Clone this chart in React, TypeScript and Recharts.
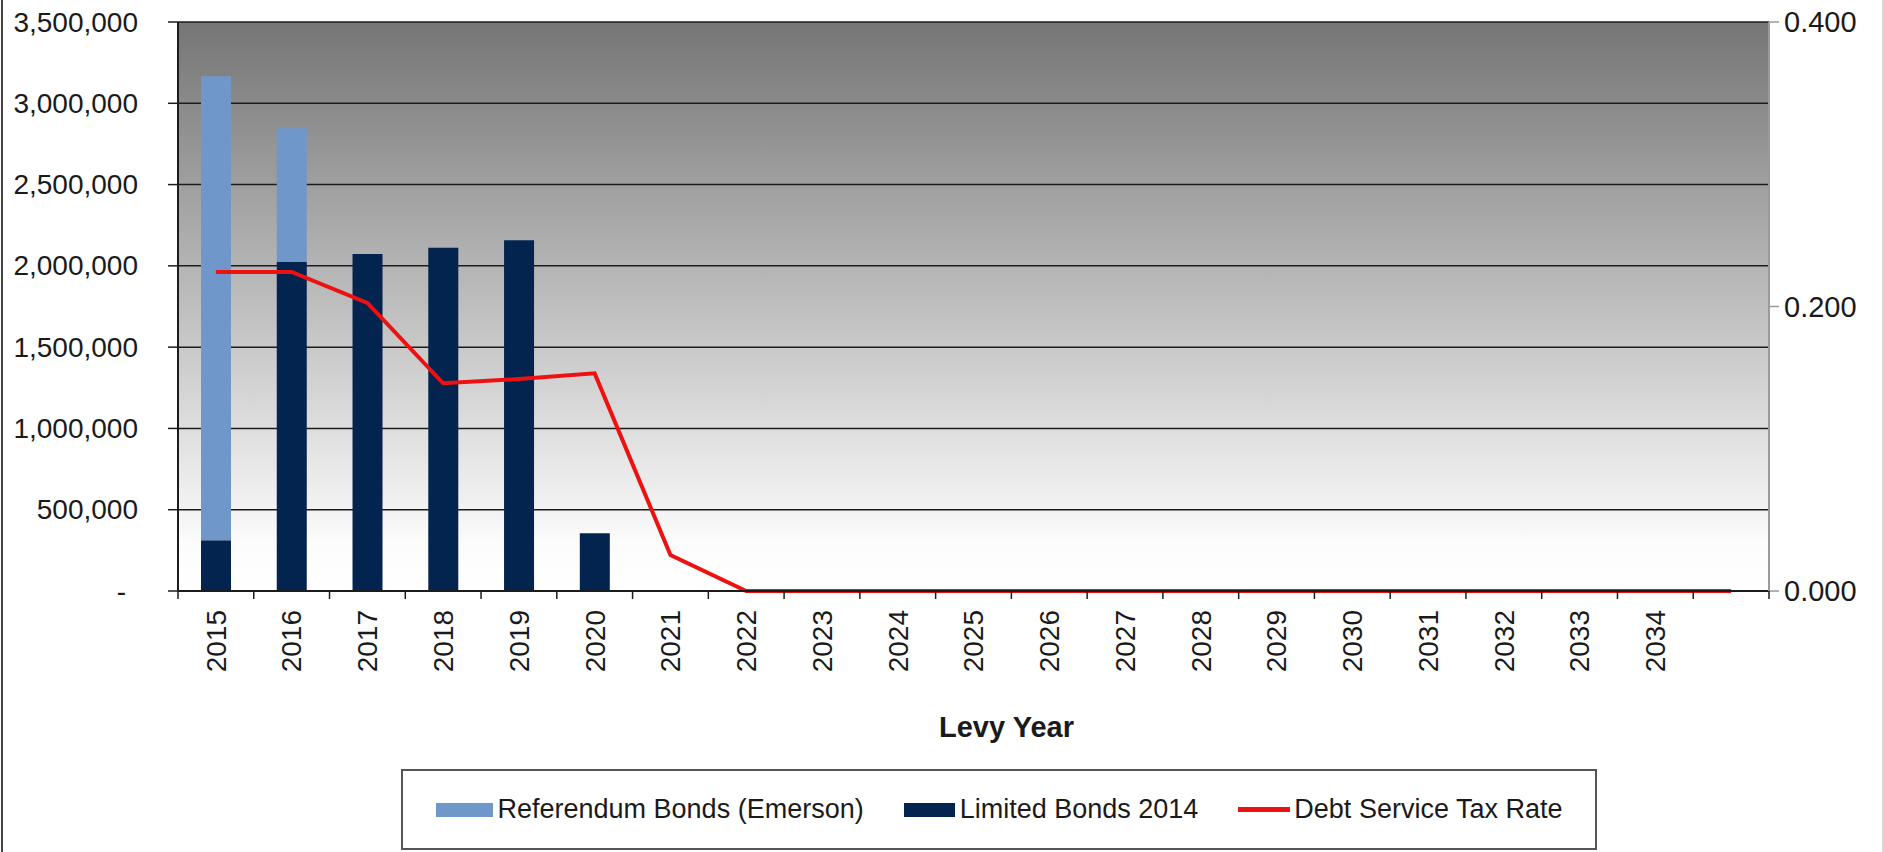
import React from "react";
import {
  ComposedChart,
  Bar,
  Line,
  XAxis,
  YAxis,
  CartesianGrid,
  Legend,
} from "recharts";

const years = [
  "2015", "2016", "2017", "2018", "2019", "2020", "2021", "2022", "2023", "2024",
  "2025", "2026", "2027", "2028", "2029", "2030", "2031", "2032", "2033", "2034", "",
];
const referendumBonds = [
  2855000, 821000, 0, 0, 0, 0, 0, 0, 0, 0, 0, 0, 0, 0, 0, 0, 0, 0, 0, 0, 0,
];
const limitedBonds = [
  312000, 2025000, 2073000, 2112000, 2157000, 355000, 0, 0, 0, 0, 0, 0, 0, 0, 0, 0, 0, 0, 0, 0, 0,
];
const taxRate = [
  0.2243, 0.2243, 0.2025, 0.146, 0.149, 0.153, 0.0253, 0, 0, 0, 0, 0, 0, 0, 0, 0, 0, 0, 0, 0, 0,
];
const leftTicks = [0, 500000, 1000000, 1500000, 2000000, 2500000, 3000000, 3500000];
const rightTicks = [0, 0.2, 0.4];
const seriesNames = ["Referendum Bonds (Emerson)", "Limited Bonds 2014", "Debt Service Tax Rate"];

const data = years.map((year, i) => ({
  year,
  referendum: referendumBonds[i],
  limited: limitedBonds[i],
  rate: taxRate[i],
}));

const W = 1883;
const H = 852;
const LEFT_W = 178;
const RIGHT_W = 114;
const BAND = (W - LEFT_W - RIGHT_W) / years.length;

const c = {
  referendum: "#6F97CA",
  limited: "#03244F",
  rate: "#EE1111",
  grid: "#1c1c1c",
  text: "#1a1a1a",
};
const font = "'Liberation Sans', Arial, sans-serif";

const LeftTick = ({ x, y, payload }: any) => {
  const v = payload.value;
  return (
    <text
      x={v === 0 ? x - 12 : x}
      y={y}
      textAnchor="end"
      dominantBaseline="central"
      fontSize={28}
      fontFamily={font}
      fill={c.text}
    >
      {v === 0 ? "-" : v.toLocaleString("en-US")}
    </text>
  );
};

const RightTick = ({ x, y, payload }: any) => (
  <text
    x={x}
    y={y}
    textAnchor="start"
    dominantBaseline="central"
    fontSize={29}
    fontFamily={font}
    fill={c.text}
  >
    {payload.value.toFixed(3)}
  </text>
);

// year labels read bottom-to-top, tick marks sit between categories
const YearTick = ({ x, y, payload, index }: any) => {
  const half = payload.offset || BAND / 2;
  const axisY = y - 19;
  return (
    <g>
      <line x1={x - half} x2={x - half} y1={axisY} y2={axisY + 8} stroke={c.grid} strokeWidth={1.5} />
      {index === years.length - 1 && (
        <line x1={x + half} x2={x + half} y1={axisY} y2={axisY + 8} stroke={c.grid} strokeWidth={1.5} />
      )}
      <text
        transform={`translate(${x},${y}) rotate(-90)`}
        textAnchor="end"
        dy="0.35em"
        fontSize={28}
        fontFamily={font}
        fill={c.text}
      >
        {payload.value}
      </text>
    </g>
  );
};

const LegendBox = () => (
  <div
    style={{
      marginLeft: 401,
      width: 1196,
      height: 81,
      boxSizing: "border-box",
      border: "2px solid #555",
      display: "flex",
      alignItems: "center",
      justifyContent: "center",
      gap: 40,
      fontFamily: font,
      fontSize: 27,
      color: c.text,
    }}
  >
    <span style={{ display: "flex", alignItems: "center", gap: 5 }}>
      <span style={{ width: 57, height: 14, background: c.referendum }} />
      {seriesNames[0]}
    </span>
    <span style={{ display: "flex", alignItems: "center", gap: 5 }}>
      <span style={{ width: 51, height: 14, background: c.limited }} />
      {seriesNames[1]}
    </span>
    <span style={{ display: "flex", alignItems: "center", gap: 4 }}>
      <span style={{ width: 52, height: 5, background: c.rate }} />
      {seriesNames[2]}
    </span>
  </div>
);

export default function App() {
  return (
    <div style={{ position: "absolute", left: 0, top: 0, width: W, height: H, background: "#fff" }}>
      <div style={{ position: "absolute", left: 1, top: 0, width: 2, height: H, background: "#444" }} />
      <div style={{ position: "absolute", right: 0, top: 0, width: 1, height: H, background: "#ddd" }} />
      <ComposedChart
        width={W}
        height={H}
        data={data}
        margin={{ top: 22, right: 0, bottom: 2, left: 0 }}
        barSize={30}
      >
        <defs>
          <linearGradient id="plotBg" x1="0" y1="0" x2="0" y2="1">
            <stop offset="0%" stopColor="#757575" />
            <stop offset="92%" stopColor="#fcfcfc" />
            <stop offset="100%" stopColor="#ffffff" />
          </linearGradient>
        </defs>
        <CartesianGrid
          yAxisId="left"
          vertical={false}
          stroke={c.grid}
          strokeWidth={1.5}
          fill="url(#plotBg)"
          fillOpacity={1}
        />
        <XAxis
          dataKey="year"
          interval={0}
          height={178}
          tickLine={false}
          tickSize={8}
          tickMargin={11}
          axisLine={{ stroke: c.grid, strokeWidth: 2 }}
          tick={<YearTick />}
          label={{
            content: ({ viewBox }: any) => (
              <text
                x={viewBox.x + viewBox.width / 2 + 33}
                y={viewBox.y + 146}
                textAnchor="middle"
                fontSize={29}
                fontWeight="bold"
                fontFamily={font}
                fill={c.text}
              >
                Levy Year
              </text>
            ),
          }}
        />
        <YAxis
          yAxisId="left"
          width={LEFT_W}
          domain={[0, 3500000]}
          ticks={leftTicks}
          tickSize={10}
          tickMargin={30}
          tickLine={{ stroke: c.grid, strokeWidth: 1.5 }}
          axisLine={{ stroke: c.grid, strokeWidth: 2 }}
          tick={<LeftTick />}
        />
        <YAxis
          yAxisId="right"
          orientation="right"
          width={RIGHT_W}
          domain={[0, 0.4]}
          ticks={rightTicks}
          tickSize={10}
          tickMargin={5}
          tickLine={{ stroke: "#9a9a9a", strokeWidth: 1.5 }}
          axisLine={{ stroke: "#9a9a9a", strokeWidth: 2 }}
          tick={<RightTick />}
        />
        <Legend verticalAlign="bottom" content={<LegendBox />} />
        <Bar yAxisId="left" dataKey="limited" stackId="bonds" fill={c.limited} name={seriesNames[1]} isAnimationActive={false} />
        <Bar yAxisId="left" dataKey="referendum" stackId="bonds" fill={c.referendum} name={seriesNames[0]} isAnimationActive={false} />
        <Line
          yAxisId="right"
          dataKey="rate"
          type="linear"
          stroke={c.rate}
          strokeWidth={4}
          dot={false}
          name={seriesNames[2]}
          isAnimationActive={false}
        />
      </ComposedChart>
    </div>
  );
}
